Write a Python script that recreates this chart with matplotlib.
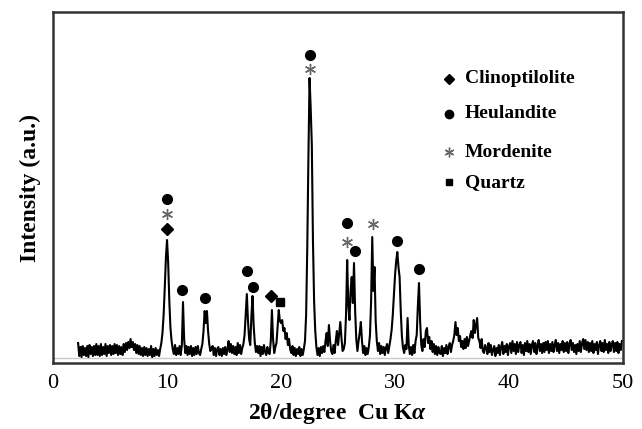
import numpy as np
import matplotlib
matplotlib.use("Agg")
import matplotlib.pyplot as plt

plt.rcParams['font.family'] = ['Liberation Serif', 'DejaVu Serif']
plt.rcParams['mathtext.fontset'] = 'custom'
plt.rcParams['mathtext.it'] = 'Liberation Serif:italic:bold'
plt.rcParams['mathtext.rm'] = 'Liberation Serif:bold'

# passo de 0.1 grau em 2theta, de 2.0 a 49.9
theta = np.arange(2.0, 50.0, 0.1)[:480]

# intensidade (a.u.), uma linha por grau (x.0 ... x.9)
intensity = [
    np.nan, np.nan, 20, 7, 16, 6, 17, 8, 15, 7,         # 2
    17, 6, 18, 9, 16, 7, 17, 8, 19, 8,                  # 3
    17, 7, 19, 8, 16, 9, 19, 7, 17, 10,                 # 4
    18, 8, 17, 9, 19, 10, 18, 8, 17, 9,                 # 5
    16, 8, 19, 11, 20, 13, 21, 15, 24, 16,              # 6
    21, 13, 19, 10, 18, 9, 17, 8, 15, 7,                # 7
    16, 8, 15, 7, 14, 8, 17, 6, 14, 7,                  # 8
    15, 8, 13, 7, 14, 20, 30, 48, 75, 105,              # 9
    123, 100, 62, 35, 22, 14, 9, 18, 8, 15,             # 10
    9, 17, 8, 18, 61, 24, 10, 17, 8, 16,                # 11
    9, 17, 7, 15, 8, 16, 9, 17, 10, 8,                  # 12
    14, 19, 32, 52, 40, 52, 32, 19, 12, 15,             # 13
    17, 8, 15, 7, 14, 16, 8, 14, 7, 15,                 # 14
    9, 16, 8, 14, 22, 11, 19, 10, 17, 9,                # 15
    16, 8, 20, 10, 18, 9, 15, 19, 28, 48,               # 16
    69, 42, 24, 18, 47, 67, 37, 20, 11, 17,             # 17
    10, 17, 7, 16, 9, 18, 11, 8, 16, 10,                # 18
    9, 22, 53, 24, 10, 16, 20, 37, 53, 42,              # 19
    40, 43, 32, 35, 24, 30, 18, 24, 14, 10,             # 20
    17, 8, 15, 7, 14, 9, 16, 7, 14, 8,                  # 21
    14, 22, 48, 115, 205, 285, 255, 218, 122, 62,       # 22
    32, 16, 8, 15, 7, 16, 10, 17, 11, 22,               # 23
    30, 17, 38, 22, 12, 9, 18, 10, 22, 32,              # 24
    18, 30, 41, 25, 12, 14, 20, 48, 103, 58,            # 25
    43, 72, 86, 60, 100, 52, 24, 12, 22, 30,            # 26
    41, 22, 10, 17, 8, 15, 9, 16, 28, 62,               # 27
    126, 72, 96, 42, 22, 12, 20, 9, 17, 10,             # 28
    16, 8, 15, 19, 10, 17, 24, 33, 48, 68,              # 29
    88, 102, 111, 96, 86, 52, 27, 15, 10, 18,           # 30
    14, 45, 18, 9, 16, 8, 18, 10, 22, 28,               # 31
    57, 80, 42, 18, 12, 24, 16, 32, 35, 20,             # 32
    26, 14, 22, 11, 19, 9, 17, 8, 16, 10,               # 33
    9, 17, 7, 15, 10, 18, 9, 16, 20, 11,                # 34
    18, 22, 28, 41, 28, 35, 22, 27, 16, 22,             # 35
    14, 24, 15, 26, 17, 22, 28, 32, 25, 43,             # 36
    30, 38, 45, 25, 22, 15, 24, 12, 10, 18,             # 37
    15, 9, 20, 11, 18, 8, 13, 17, 7, 15,                # 38
    10, 18, 8, 16, 21, 9, 17, 11, 19, 8,                # 39
    17, 20, 10, 22, 12, 19, 9, 21, 11, 18,              # 40
    21, 10, 18, 8, 20, 12, 22, 11, 19, 9,               # 41
    18, 22, 11, 20, 9, 17, 23, 12, 19, 10,              # 42
    20, 11, 21, 13, 22, 10, 19, 12, 21, 11,             # 43
    18, 23, 12, 20, 10, 19, 13, 22, 11, 20,             # 44
    12, 21, 10, 19, 23, 13, 20, 11, 18, 9,              # 45
    19, 12, 22, 11, 20, 24, 14, 23, 13, 21,             # 46
    11, 20, 12, 22, 10, 19, 13, 21, 9, 18,              # 47
    22, 12, 20, 11, 23, 13, 19, 10, 21, 12,             # 48
    18, 22, 11, 20, 12, 21, 10, 19, 13, 22,             # 49
]

# identificacao das fases (posicao 2theta, altura do simbolo)
clino_x = [10.0, 19.15]
clino_y = [134, 67]
heul_x = [10.0, 11.35, 13.3, 17.0, 17.55, 22.55, 25.8, 26.5, 30.2, 32.1]
heul_y = [164, 73, 65, 92, 76, 308, 140, 112, 122, 94]
mord_x = [10.0, 22.5, 25.8, 28.05]
mord_y = [149, 294, 121, 139]
quartz_x = [19.9]
quartz_y = [61]

legend_names = ['Clinoptilolite', 'Heulandite', 'Mordenite', 'Quartz']

fig = plt.figure(figsize=(6.42, 4.29), dpi=100)
ax = fig.add_axes([0.0826, 0.1538, 0.8879, 0.8182])

ax.axhline(5, color='#c8c8c8', lw=1.0, zorder=1)
ax.plot(theta, intensity, color='black', lw=1.5, zorder=2)

# simbolos sobre os picos
ax.plot(clino_x, clino_y, 'D', color='black', ms=6, ls='none')
ax.plot(heul_x, heul_y, 'o', color='black', ms=7, ls='none')
ax.plot(mord_x, mord_y, marker=(6, 2, 0), color='#666666', ms=8, mew=1.0, ls='none')
ax.plot(quartz_x, quartz_y, 's', color='black', ms=6, ls='none')

# legenda feita a mao
leg_y = [0.81, 0.71, 0.60, 0.515]
leg_markers = [('D', 5, 'black'), ('o', 6, 'black'), ((6, 2, 0), 7, '#666666'), ('s', 5, 'black')]
for yy, name, (mk, ms, c) in zip(leg_y, legend_names, leg_markers):
    ax.plot([0.695], [yy], marker=mk, ms=ms, color=c, mew=1.0, transform=ax.transAxes, clip_on=False)
    ax.text(0.722, yy, name, transform=ax.transAxes, fontsize=14, fontweight='bold',
            va='center', ha='left')

ax.set_xlim(0, 50)
ax.set_ylim(0, 351)
ax.set_xticks([0, 10, 20, 30, 40, 50])
ax.set_yticks([])
ax.tick_params(axis='x', length=0, pad=8, labelsize=16)
for s in ax.spines.values():
    s.set_linewidth(1.8)
    s.set_color('#333333')

ax.set_xlabel(r'2θ/degree  Cu K$\alpha$', fontsize=17, fontweight='bold', labelpad=6)
ax.set_ylabel('Intensity (a.u.)', fontsize=17, fontweight='bold', labelpad=9)

fig.savefig('out.png', dpi=100)
